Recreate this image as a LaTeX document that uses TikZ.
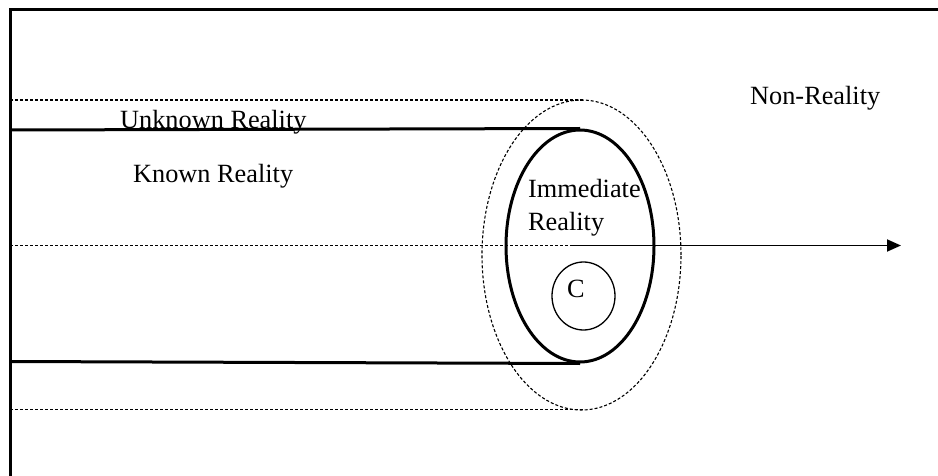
\documentclass[tikz,border=0pt]{standalone}
\usepackage{fontspec}
\setmainfont{Liberation Serif}
\usetikzlibrary{shapes.geometric,arrows.meta}
\begin{document}
\begin{tikzpicture}[x=1pt,y=-1pt,
  frameline/.style={line width=3pt},
  solidline/.style={line width=3pt},
  dotline/.style={line width=1.1pt,dash pattern=on 3pt off 2pt},
  lbl/.style={anchor=base west,inner sep=0pt,font=\fontsize{26.3}{31}\selectfont},
  ell/.style={ellipse,inner sep=0pt,draw}]
\useasboundingbox (0,0) rectangle (938,476);
% frame
\coordinate (ftl) at (10.5,9.5);
\coordinate (ftr) at (938,9.5);
\coordinate (fbl) at (10.5,476);
\draw[frameline] (ftr) -- (ftl) -- (fbl);
% ellipses
\node[ell,dotline,minimum width=199pt,minimum height=310pt] (outer) at (581.5,255) {};
\node[ell,line width=3pt,minimum width=148pt,minimum height=232pt] (imm) at (580,246) {};
\node[ell,line width=1.3pt,minimum width=63pt,minimum height=68pt] (cc) at (583.5,296) {};
% horizontal lines
\coordinate (dt) at (10,100);
\coordinate (dte) at (583,100);
\coordinate (st) at (10,130);
\coordinate (sb) at (10,361.5);
\coordinate (db) at (10,409.5);
\coordinate (dbe) at (583,409.5);
\coordinate (dm) at (10,245.5);
\coordinate (am) at (570,245.5);
\coordinate (ae) at (901,245.5);
\draw[dotline] (dt) -- (dte);
\draw[dotline] (db) -- (dbe);
\draw[dotline] (dm) -- (am);
\draw[solidline] (st) -- (imm.north);
\draw[solidline] (sb) -- (imm.south);
\draw[line width=1.8pt,-{Triangle[length=14pt,width=12pt]}] (am) -- (ae);
% labels
\node[lbl] (unk) at (120,129) {Unknown Reality};
\node[lbl] (kn) at (133,183) {Known Reality};
\node[lbl] (non) at (750,105) {Non-Reality};
\node[lbl] (im1) at (528,198) {Immediate};
\node[lbl] (im2) at (528,230) {Reality};
\node[lbl] (c) at (567,297) {C};
\end{tikzpicture}
\end{document}
